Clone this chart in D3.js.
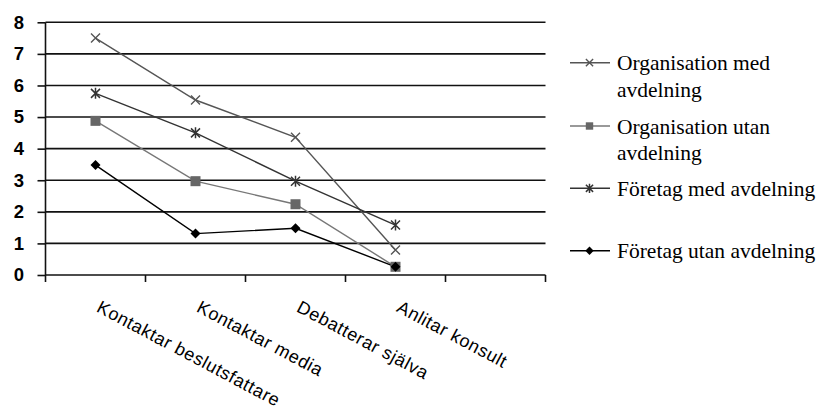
<!DOCTYPE html>
<html><head><meta charset="utf-8">
<script src="https://cdn.jsdelivr.net/npm/d3@7"></script>
<style>body{margin:0;background:#fff}svg{display:block}</style>
</head><body>
<svg id="c" width="819" height="409"></svg>
<script>
const categories = ["Kontaktar beslutsfattare","Kontaktar media","Debatterar själva","Anlitar konsult",""];
const seriesNames = [["Organisation med","avdelning"],["Organisation utan","avdelning"],["Företag med avdelning"],["Företag utan avdelning"]];
const orgMed = [7.5, 5.54, 4.36, 0.79];
const orgUtan = [4.88, 2.97, 2.24, 0.26];
const foretagMed = [5.75, 4.5, 2.97, 1.58];
const foretagUtan = [3.48, 1.31, 1.48, 0.26];
const yTicks = [0,1,2,3,4,5,6,7,8];

const series = [
  {values: orgMed, color:"#555", marker:"x"},
  {values: orgUtan, color:"#777", marker:"square"},
  {values: foretagMed, color:"#333", marker:"star"},
  {values: foretagUtan, color:"#000", marker:"diamond"}
];

const svg = d3.select("#c");
const L = 45.5, R = 545.5, T = 22.3, B = 275;
const x = d3.scaleBand().domain(categories.map((c,i)=>i)).range([L,R]);
const y = d3.scaleLinear().domain([0,8]).range([B,T]);

// gridlines
svg.append("g").selectAll("line").data(yTicks.filter(d=>d>0)).join("line")
  .attr("x1",L).attr("x2",R).attr("y1",d=>y(d)).attr("y2",d=>y(d))
  .attr("stroke","#111").attr("stroke-width",1.6);

// y axis
const ya = svg.append("g").attr("transform",`translate(${L},0)`)
  .call(d3.axisLeft(y).tickValues(yTicks).tickSize(8).tickPadding(13.5).tickFormat(d3.format("d")));
ya.select(".domain").attr("stroke","#111").attr("stroke-width",1.6).attr("d",`M0,${T}V${B}`);
ya.selectAll(".tick line").attr("stroke","#111").attr("stroke-width",1.6);
ya.selectAll(".tick text").attr("font-family","Liberation Sans, Arial").attr("font-weight","bold")
  .attr("font-size",18.5).attr("fill","#000");

// x axis
const xa = svg.append("g").attr("transform",`translate(0,${B})`);
xa.append("line").attr("x1",L).attr("x2",R).attr("stroke","#111").attr("stroke-width",1.6);
const bounds = categories.map((c,i)=>x(i)).concat([x(categories.length-1)+x.bandwidth()]);
xa.selectAll("line.tk").data(bounds).join("line").attr("class","tk")
  .attr("x1",d=>d).attr("x2",d=>d).attr("y1",0).attr("y2",7)
  .attr("stroke","#111").attr("stroke-width",1.6);
xa.selectAll("text").data(categories).join("text")
  .attr("transform",(d,i)=>`translate(${x(i)+x.bandwidth()/2},${36}) rotate(28)`)
  .attr("font-family","Liberation Sans, Arial").attr("font-size",18).attr("letter-spacing",0.6)
  .attr("fill","#000")
  .text(d=>d);

// lines and markers
function drawMarker(g, type, cx, cy, color, s){
  if(type==="x"){
    g.append("path").attr("d",`M${cx-s},${cy-s}L${cx+s},${cy+s}M${cx-s},${cy+s}L${cx+s},${cy-s}`)
      .attr("stroke",color).attr("stroke-width",1.4).attr("fill","none");
  } else if(type==="square"){
    g.append("rect").attr("x",cx-s).attr("y",cy-s).attr("width",2*s).attr("height",2*s).attr("fill","#666");
  } else if(type==="star"){
    g.append("path").attr("d",`M${cx-s},${cy-s}L${cx+s},${cy+s}M${cx-s},${cy+s}L${cx+s},${cy-s}M${cx},${cy-s-1}L${cx},${cy+s+1}`)
      .attr("stroke",color).attr("stroke-width",1.5).attr("fill","none");
  } else {
    g.append("path").attr("d",`M${cx},${cy-s}L${cx+s},${cy}L${cx},${cy+s}L${cx-s},${cy}Z`).attr("fill",color);
  }
}
const line = d3.line().x((d,i)=>x(i)+x.bandwidth()/2).y(d=>y(d));
series.forEach(s=>{
  svg.append("path").datum(s.values).attr("d",line).attr("fill","none")
    .attr("stroke",s.color).attr("stroke-width",1.4);
});
series.forEach(s=>{
  const g = svg.append("g");
  s.values.forEach((v,i)=>{
    const sz = s.marker==="square"?5:(s.marker==="diamond"?5:4.5);
    drawMarker(g, s.marker, x(i)+x.bandwidth()/2, y(v), s.color, sz);
  });
});

// legend
const legY = [62.7,126,188.3,250.7];
const lg = svg.append("g");
series.forEach((s,i)=>{
  lg.append("line").attr("x1",570).attr("x2",610).attr("y1",legY[i]).attr("y2",legY[i])
    .attr("stroke",s.color).attr("stroke-width",1.4);
  const sz = s.marker==="square"?3.7:(s.marker==="diamond"?4.2:3.6);
  drawMarker(lg, s.marker, 589.5, legY[i], s.color, sz);
  const t = lg.append("text").attr("x",617).attr("y",legY[i]+7.5)
    .attr("font-family","Liberation Serif, Times New Roman").attr("font-size",21.5)
    .attr("letter-spacing",0).attr("fill","#000");
  seriesNames[i].forEach((ln,j)=>{
    t.append("tspan").attr("x",617).attr("dy",j===0?0:26.8).text(ln);
  });
});
</script>
</body></html>
